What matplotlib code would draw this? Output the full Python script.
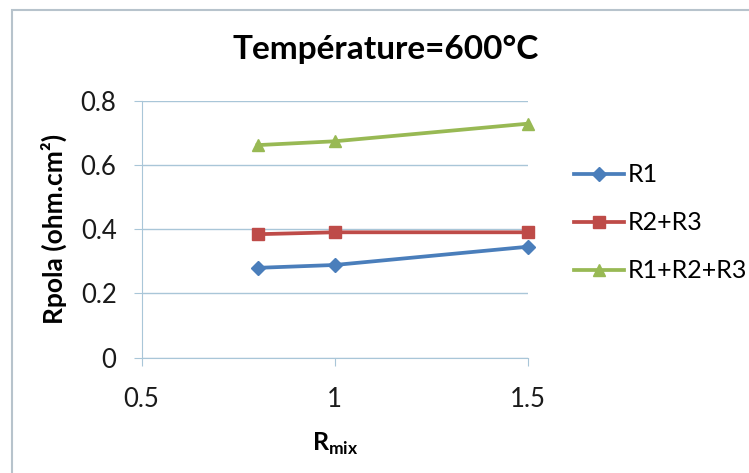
import matplotlib
matplotlib.use("Agg")
import matplotlib.pyplot as plt
from matplotlib.patches import Rectangle

plt.rcParams['font.family'] = ['Lato', 'DejaVu Sans']
plt.rcParams['mathtext.fontset'] = 'custom'
plt.rcParams['mathtext.rm'] = 'Lato'
plt.rcParams['mathtext.bf'] = 'Lato:bold'

rmix = [0.8, 1.0, 1.5]
r1 = [0.280, 0.289, 0.346]
r2_r3 = [0.385, 0.391, 0.391]
r1_r2_r3 = [0.663, 0.675, 0.730]

series = [
    ('R1', r1, '#4a7ebb', 'D', 7),
    ('R2+R3', r2_r3, '#be4b48', 's', 9),
    ('R1+R2+R3', r1_r2_r3, '#98b954', '^', 9),
]

grid_col = '#a9c6d8'

fig = plt.figure(figsize=(7.49, 4.73), dpi=100)
fig.patches.append(Rectangle((12 / 749, -0.05), 1.2, 1 - 10 / 473 + 0.05,
                             transform=fig.transFigure, fill=False,
                             edgecolor='#b7c3cc', linewidth=1.5))

ax = fig.add_axes([0.189, 0.244, 0.516, 0.542])
for name, vals, col, mk, ms in series:
    ax.plot(rmix, vals, color=col, marker=mk, markersize=ms, linewidth=2.7,
            label=name, clip_on=False)

ax.set_xlim(0.5, 1.5)
ax.set_ylim(0, 0.8)
ax.set_xticks([0.5, 1, 1.5])
ax.set_xticklabels(['0.5', '1', '1.5'])
ax.set_yticks([0, 0.2, 0.4, 0.6, 0.8])
ax.set_yticklabels(['0', '0.2', '0.4', '0.6', '0.8'])
ax.yaxis.grid(True, color=grid_col, linewidth=1)
ax.set_axisbelow(True)
for s in ['top', 'right']:
    ax.spines[s].set_visible(False)
for s in ['left', 'bottom']:
    ax.spines[s].set_color(grid_col)
ax.tick_params(axis='both', colors=grid_col, labelcolor='#1a1a1a',
               labelsize=18.5, length=6, direction='out')
ax.tick_params(axis='x', pad=15)
ax.tick_params(axis='y', pad=12)

fig.text(386 / 749, 1 - 49 / 473, 'Température=600°C', fontsize=24,
         fontweight='bold', ha='center', va='center')
ax.set_ylabel('Rpola (ohm.cm²)', fontsize=19, fontweight='bold', labelpad=10)
ax.set_xlabel(r'$\mathbf{R}_{\mathbf{mix}}$', fontsize=18, labelpad=14)

ax.legend(loc='upper left', bbox_to_anchor=(1.06, 0.845), frameon=False,
          fontsize=18, handlelength=2.0, handletextpad=0.15, labelspacing=1.0)

fig.savefig('out.png', dpi=100)
